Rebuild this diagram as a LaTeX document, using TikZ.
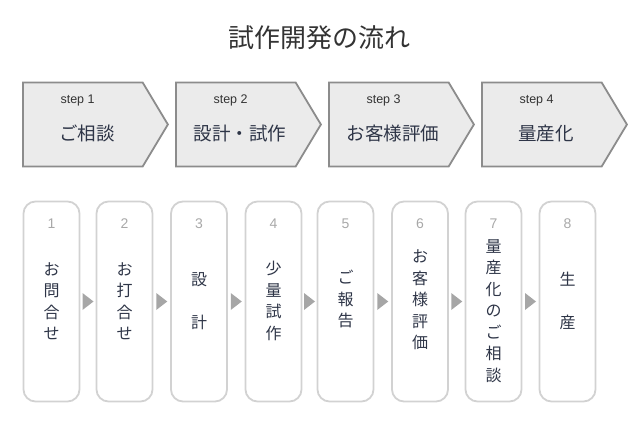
\documentclass[tikz,border=0pt]{standalone}
\usepackage{fontspec}
\setmainfont{Liberation Sans}
\newfontfamily\jpfont{Noto Sans CJK JP}
\usetikzlibrary{shapes.symbols,calc}
\definecolor{stepline}{HTML}{8C8C8C}
\definecolor{stepfill}{HTML}{EBEBEB}
\definecolor{boxline}{HTML}{D2D2D2}
\definecolor{navy}{HTML}{2E3547}
\definecolor{numgray}{HTML}{A8A8A8}
\definecolor{trigray}{HTML}{A6A6A6}

\begin{document}
\begin{tikzpicture}[x=1pt,y=-1pt]
  \tikzset{stepbox/.style = {shape=signal,signal to=east,signal pointer angle=118,draw=stepline,fill=stepfill,line width=1.8pt,minimum width=145pt,minimum height=84pt,inner sep=0pt,anchor=west}}
  \tikzset{steptag/.style = {anchor=west,text=black!80,font=\fontsize{12.5}{14}\selectfont}}
  \tikzset{stepname/.style = {text=navy,font=\jpfont\fontsize{18.5}{20}\selectfont}}
  \tikzset{flowbox/.style = {shape=rectangle,draw=boxline,line width=1.8pt,rounded corners=12pt,minimum width=56pt,minimum height=200pt,inner sep=0pt}}
  \tikzset{flownum/.style = {text=numgray,font=\fontsize{14}{16}\selectfont}}
  \tikzset{flowtext/.style = {text=navy,align=center,font=\jpfont\fontsize{16}{21.5}\selectfont}}
  \useasboundingbox (0,0) rectangle (638,433);
	\node[text=black!80,font=\jpfont\fontsize{26}{28}\selectfont] (title) at (319,38) {試作開発の流れ};

    % step row
    \foreach \i/\x/\name in {1/22/ご相談,2/175/設計・試作,3/328/お客様評価,4/481/量産化}{
      \node[stepbox] (s\i) at (\x,124.5) {};
      \node[steptag] (t\i) at (\x+35,100) {step \i};
      \node[stepname] (n\i) at (\x+65,133) {\name};
    }

    % flow row
    \foreach \i/\x/\ty/\txt in {1/51.5/301/お\\問\\合\\せ,2/124.5/301/お\\打\\合\\せ,3/199/301/設\\ \\計,4/273.5/301/少\\量\\試\\作,5/345.5/299/ご\\報\\告,6/420/300/お\\客\\様\\評\\価,7/493.5/311/量\\産\\化\\の\\ご\\相\\談,8/567.5/301/生\\ \\産}{
      \node[flowbox] (b\i) at (\x,301.5) {};
      \node[flownum] (k\i) at (\x,224) {\i};
      \node[flowtext] (w\i) at (\x,\ty) {\txt};
    }

    \foreach \from/\to in {1/2,2/3,3/4,4/5,5/6,6/7,7/8}
    \fill[trigray] ($(b\from.east)!0.5!(b\to.west)$) ++(-5.5,-8.5) -- ++(11,8.5) -- ++(-11,8.5) -- cycle;
\end{tikzpicture}
\end{document}
